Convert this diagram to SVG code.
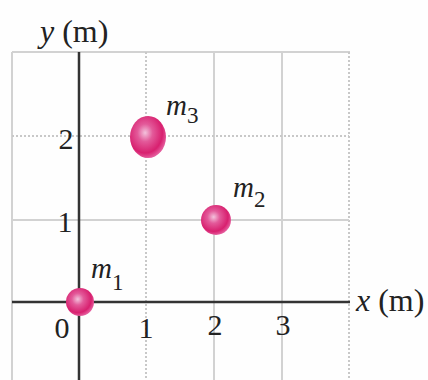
<svg xmlns="http://www.w3.org/2000/svg" width="428" height="380" viewBox="0 0 428 380">
<defs>
<radialGradient id="ball" cx="0.42" cy="0.4" r="0.6">
<stop offset="0" stop-color="#f3c2dc"/>
<stop offset="0.35" stop-color="#e35a9a"/>
<stop offset="0.8" stop-color="#d8206f"/>
<stop offset="1" stop-color="#e4589a"/>
</radialGradient>
</defs>
<style>
.grid{stroke:#d2d2d2;stroke-width:2;fill:none}
.dot{stroke:#c8c8c8;stroke-width:2;stroke-dasharray:2 2;fill:none}
.axis{stroke:#333;stroke-width:2.5;fill:none}
text{font-family:"Liberation Serif","Times New Roman",serif;fill:#222}
.tick{font-size:30px;text-anchor:middle}
.lab{font-size:32px}
.m{font-size:29px;font-style:italic}
.sub{font-size:23px;font-style:normal}
.ball{fill:url(#ball)}
</style>
<rect width="428" height="380" fill="#fefefe"/>
<g id="grid">
<line class="grid" x1="12" y1="52" x2="350" y2="52"/>
<line class="grid" x1="12" y1="52" x2="12" y2="380"/>
<line class="dot" x1="349" y1="52" x2="349" y2="380"/>
<line class="dot" x1="146" y1="52" x2="146" y2="380"/>
<line class="grid" x1="214" y1="52" x2="214" y2="380"/>
<line class="grid" x1="282" y1="52" x2="282" y2="380"/>
<line class="dot" x1="12" y1="136" x2="349" y2="136"/>
<line class="grid" x1="12" y1="220" x2="349" y2="220"/>
</g>
<g id="axes">
<line class="axis" x1="79" y1="52" x2="79" y2="380"/>
<line class="axis" x1="12" y1="302" x2="350" y2="302"/>
</g>
<g id="labels">
<text class="lab" x="40" y="42"><tspan font-style="italic">y</tspan> (m)</text>
<text class="lab" x="356" y="311"><tspan font-style="italic">x</tspan> (m)</text>
<text class="tick" x="66" y="149">2</text>
<text class="tick" x="65" y="232">1</text>
<text class="tick" x="62" y="338">0</text>
<text class="tick" x="146" y="338">1</text>
<text class="tick" x="215" y="335">2</text>
<text class="tick" x="283" y="335">3</text>
</g>
<g id="m1">
<circle class="ball" cx="80" cy="302" r="14"/>
<text class="m" x="91" y="278">m<tspan class="sub" dy="12">1</tspan></text>
</g>
<g id="m2">
<circle class="ball" cx="216" cy="220" r="15"/>
<text class="m" x="233" y="197">m<tspan class="sub" dy="10">2</tspan></text>
</g>
<g id="m3">
<ellipse class="ball" cx="148" cy="137" rx="18" ry="21"/>
<text class="m" x="166" y="115">m<tspan class="sub" dy="8">3</tspan></text>
</g>
</svg>
